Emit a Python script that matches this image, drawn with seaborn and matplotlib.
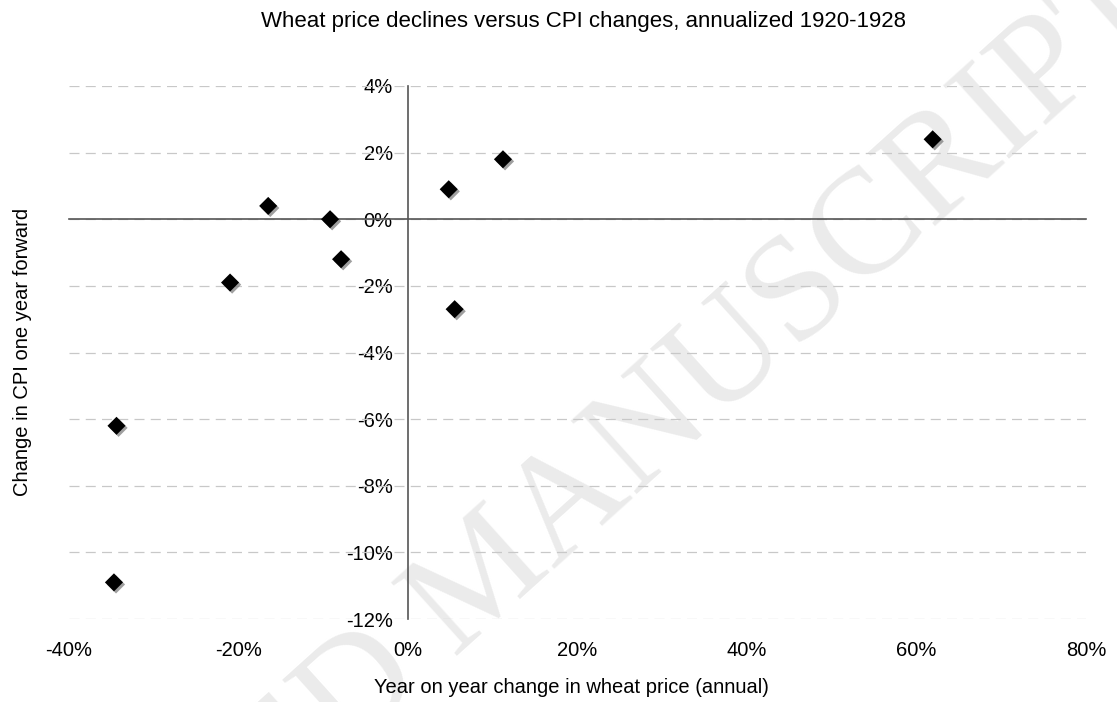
import matplotlib
matplotlib.use('Agg')
import matplotlib.pyplot as plt
import matplotlib.patheffects as pe
from matplotlib.ticker import FuncFormatter
import seaborn as sns
import pandas as pd

# data (percent)
wheat_change = [-16.5, -9.2, -7.9, -21.0, 4.8, 11.2, 5.5, 61.9, -34.4, -34.7]
cpi_change = [0.4, 0.0, -1.2, -1.9, 0.9, 1.8, -2.7, 2.4, -6.2, -10.9]
x_ticks = [-40, -20, 0, 20, 40, 60, 80]
y_ticks = [-12, -10, -8, -6, -4, -2, 0, 2, 4]

sns.set_style('white')
plt.rcParams['font.family'] = ['Liberation Sans', 'DejaVu Sans']
plt.rcParams['font.size'] = 14.5
plt.rcParams['text.color'] = 'black'
plt.rcParams['axes.labelcolor'] = 'black'

df = pd.DataFrame({'wheat': wheat_change, 'cpi': cpi_change})

fig = plt.figure(figsize=(11.17, 7.02), dpi=100)
ax = fig.add_axes([0.0618, 0.1182, 0.9105, 0.7593])
ax.set_zorder(2)

# watermark
fig.text(0.436, 0.174, 'ACCEPTED MANUSCRIPT', family='Liberation Serif', fontsize=108,
         color='#ebebeb', rotation=42, rotation_mode='anchor', ha='center', va='center',
         zorder=-5)

for v in y_ticks:
    ax.axhline(v, color='#c8c8c8', lw=0.9, ls=(0, (8, 5)), zorder=1)

sns.scatterplot(data=df, x='wheat', y='cpi', marker='D', s=85, color='black',
                edgecolor='black', linewidth=0, ax=ax, zorder=5)
ax.collections[0].set_path_effects([
    pe.SimplePatchShadow(offset=(1.5, -1.5), shadow_rgbFace='#777777', alpha=0.7),
    pe.Normal()])

ax.set_xlim(-40, 80)
ax.set_ylim(-12, 4)
ax.patch.set_visible(False)

for side in ['top', 'right']:
    ax.spines[side].set_visible(False)
ax.spines['left'].set_position(('data', 0))
ax.spines['bottom'].set_position(('data', 0))
for side in ['left', 'bottom']:
    ax.spines[side].set_color('#555555')
    ax.spines[side].set_linewidth(1.2)

pct = FuncFormatter(lambda v, p: f'{v:.0f}%')
ax.set_yticks(y_ticks)
ax.yaxis.set_major_formatter(pct)
ax.tick_params(axis='y', direction='out', length=4, width=1, color='#555555', pad=7,
               labelsize=14.5, labelcolor='black')
ax.set_xticks(x_ticks)
ax.tick_params(axis='x', direction='out', length=4, width=1, color='#555555',
               labelbottom=False)

sec = ax.secondary_xaxis(0)
sec.set_xticks(x_ticks)
sec.xaxis.set_major_formatter(pct)
sec.spines['bottom'].set_visible(False)
sec.tick_params(axis='x', length=0, pad=16, labelsize=14.5, labelcolor='black')

ax.set_xlabel('')
ax.set_ylabel('')
fig.text(0.512, 0.02, 'Year on year change in wheat price (annual)', ha='center',
         va='center', fontsize=14.5)
fig.text(0.0197, 0.4985, 'Change in CPI one year forward', rotation=90, ha='center',
         va='center', fontsize=14.5)
fig.text(0.522, 0.969, 'Wheat price declines versus CPI changes, annualized 1920-1928',
         ha='center', va='center', fontsize=16)

fig.savefig('out.png', dpi=100)
